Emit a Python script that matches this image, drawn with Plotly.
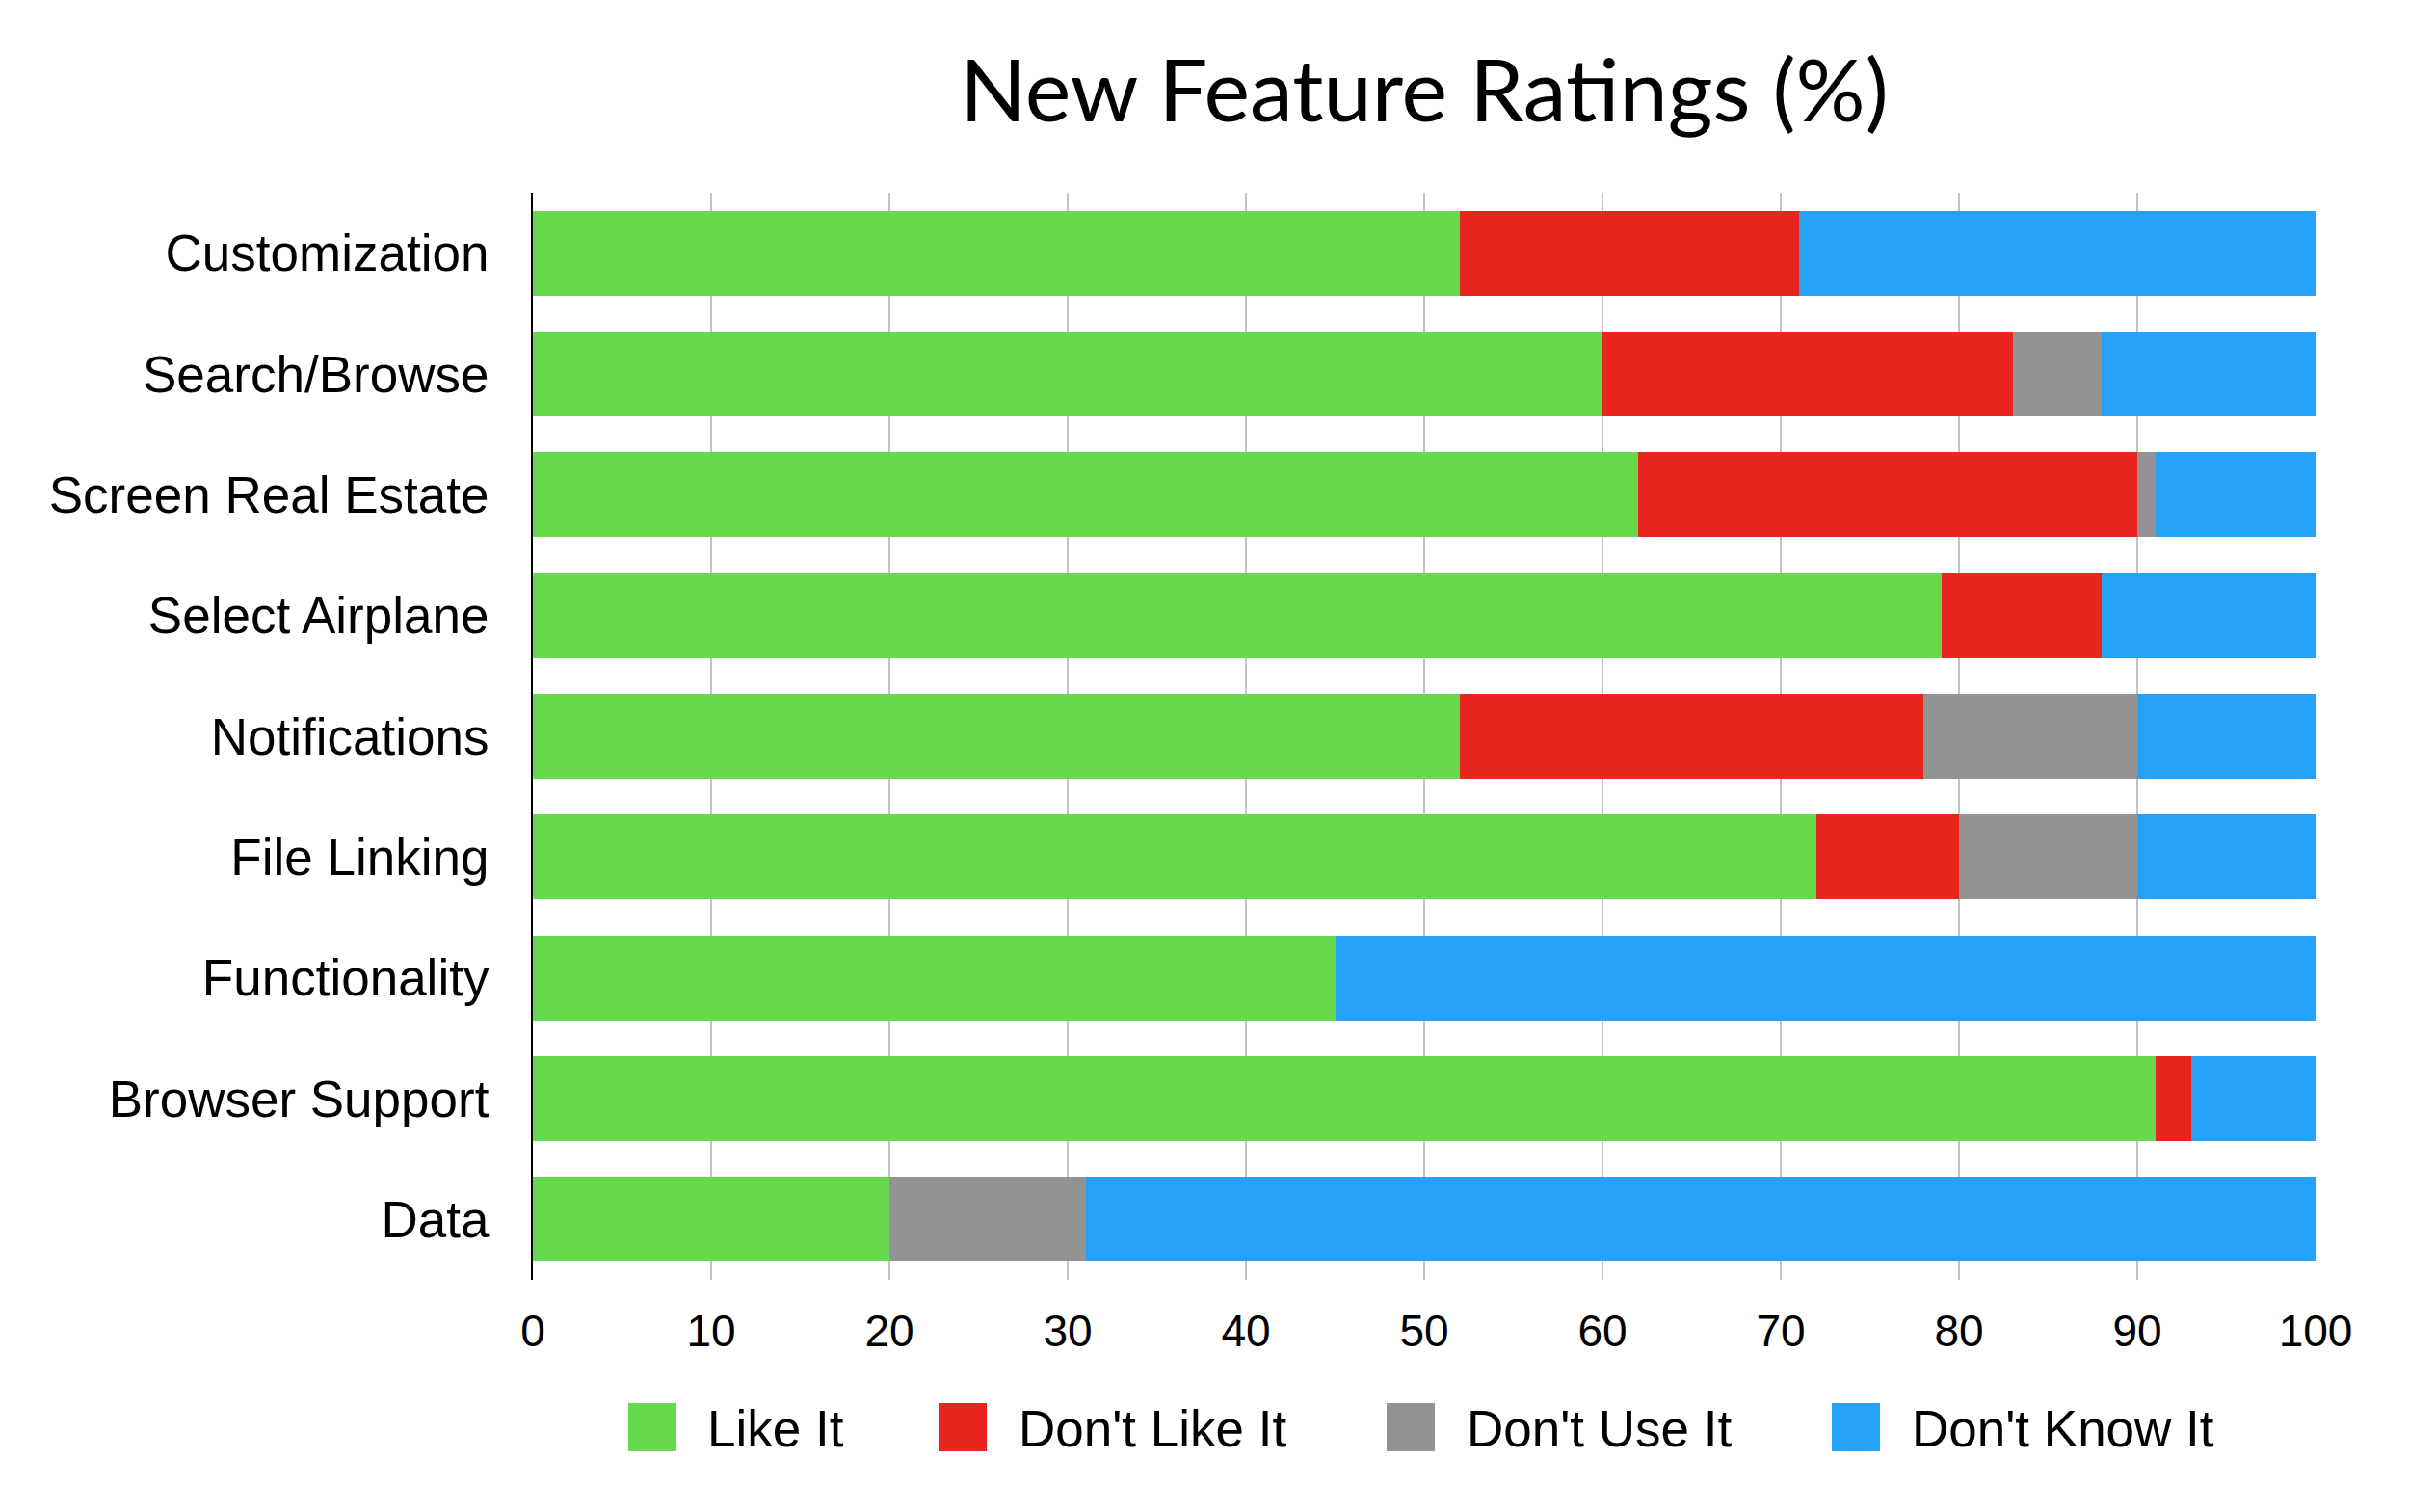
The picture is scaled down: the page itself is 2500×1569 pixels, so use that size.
import plotly.graph_objects as go

categories = ["Customization", "Search/Browse", "Screen Real Estate", "Select Airplane",
              "Notifications", "File Linking", "Functionality", "Browser Support", "Data"]
like_it = [52, 60, 62, 79, 52, 72, 45, 91, 20]
dont_like_it = [19, 23, 28, 9, 26, 8, 0, 2, 0]
dont_use_it = [0, 5, 1, 0, 12, 10, 0, 0, 11]
dont_know_it = [29, 12, 9, 12, 10, 10, 55, 7, 69]
series_names = ["Like It", "Don't Like It", "Don't Use It", "Don't Know It"]
series_colors = ["#66D94D", "#E8251F", "#939393", "#25A1F9"]
x_ticks = [0, 10, 20, 30, 40, 50, 60, 70, 80, 90, 100]

OFF = 8  # default body margin of the html page
W, H = 2500 - OFF, 1569 - OFF
L = 553 - OFF
T = 200 - OFF
PW = 1850
PH = 1128
R = W - L - PW
B = H - T - PH

fig = go.Figure()
for name, vals, col in zip(series_names, [like_it, dont_like_it, dont_use_it, dont_know_it], series_colors):
    fig.add_trace(go.Bar(y=categories, x=vals, name=name, orientation="h",
                         marker=dict(color=col, line=dict(width=0)), showlegend=False))

# custom legend with large square swatches (page pixel positions)
legend_swatch_x = [652, 974, 1439, 1901]
legend_text_x = [732, 1055, 1520, 1982]
legend_y0, legend_y1 = 1456, 1506
legend_yc = 1482
sw = 50

def px_x(p):
    return (p - OFF - L) / PW

def px_y(p):
    return (T + PH - (p - OFF)) / PH

shapes = []
annotations = []
for name, col, sx, tx in zip(series_names, series_colors, legend_swatch_x, legend_text_x):
    shapes.append(dict(type="rect", xref="paper", yref="paper",
                       x0=px_x(sx), x1=px_x(sx + sw),
                       y0=px_y(legend_y1), y1=px_y(legend_y0),
                       fillcolor=col, line=dict(width=0)))
    annotations.append(dict(text=name, xref="paper", yref="paper",
                            x=px_x(tx), y=px_y(legend_yc),
                            xanchor="left", yanchor="middle", showarrow=False,
                            font=dict(family="Liberation Sans, Arial", size=53, color="black")))

fig.update_layout(
    barmode="stack",
    bargap=0.3,
    width=W, height=H,
    margin=dict(l=L, r=R, t=T, b=B),
    paper_bgcolor="white", plot_bgcolor="white",
    title=dict(text="New Feature Ratings (%)", x=(L + PW / 2) / W, xanchor="center",
               y=1 - (94 - OFF) / H, yanchor="middle", yref="container",
               font=dict(family="Lato", size=90, color="black")),
    xaxis=dict(range=[0, 100], tickvals=x_ticks, showgrid=True, gridcolor="#C2C2C2", gridwidth=2,
               zeroline=False, showline=False, ticks="", ticklabelstandoff=22,
               tickfont=dict(family="Liberation Sans, Arial", size=46, color="black")),
    yaxis=dict(autorange="reversed", showline=True, linecolor="black", linewidth=2,
               showgrid=False, ticks="", ticklabelstandoff=33,
               tickfont=dict(family="Liberation Sans, Arial", size=53, color="black")),
    shapes=shapes,
    annotations=annotations,
)

fig.write_html("out.html")
